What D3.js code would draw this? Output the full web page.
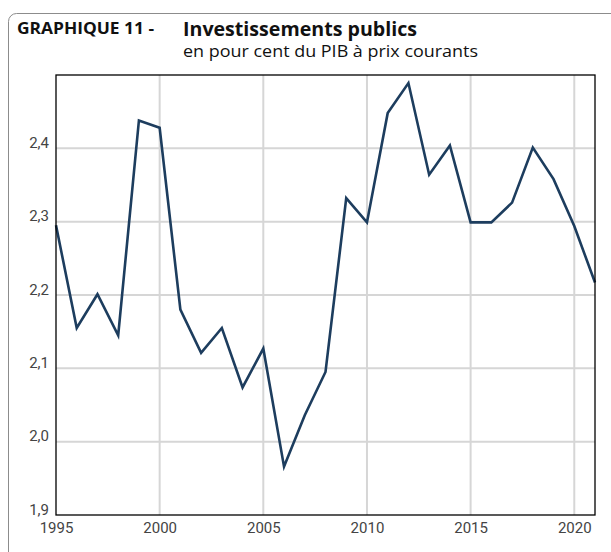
<!DOCTYPE html>
<html><head><meta charset="utf-8">
<script src="https://cdn.jsdelivr.net/npm/d3@7"></script>
<style>body{margin:0;background:#fff}svg{display:block}</style>
</head><body>
<svg id="c" width="611" height="552"></svg>
<script>
const years = d3.range(1995, 2022);
const values = [2.295, 2.155, 2.201, 2.145, 2.438, 2.428, 2.180, 2.121, 2.155, 2.074,
  2.127, 1.966, 2.036, 2.095, 2.332, 2.299, 2.448, 2.489, 2.364, 2.404,
  2.299, 2.299, 2.326, 2.401, 2.358, 2.294, 2.217];
const yTicks = [1.9, 2.0, 2.1, 2.2, 2.3, 2.4];
const xTicks = [1995, 2000, 2005, 2010, 2015, 2020];
const titleLabel = "GRAPHIQUE 11 -";
const titleText = "Investissements publics";
const subtitleText = "en pour cent du PIB à prix courants";

const svg = d3.select("#c");
const m = {l: 56, t: 75, r: 595, b: 515};
const x = d3.scaleLinear().domain([1995, 2021]).range([m.l, m.r]);
const y = d3.scaleLinear().domain([1.9, 2.5]).range([m.b, m.t]);

// outer frame
svg.append("rect").attr("x", 8.5).attr("y", 13.5).attr("width", 640).attr("height", 600)
  .attr("rx", 8).attr("fill", "none").attr("stroke", "#8c8c8c").attr("stroke-width", 1);

// titles
svg.append("text").attr("x", 17).attr("y", 34).text(titleLabel)
  .attr("font-family", "Open Sans, sans-serif").attr("font-weight", "bold").attr("font-size", 16)
  .attr("textLength", 137).attr("lengthAdjust", "spacingAndGlyphs").attr("fill", "#111");
svg.append("text").attr("x", 183).attr("y", 36).text(titleText)
  .attr("font-family", "Open Sans, sans-serif").attr("font-weight", "bold").attr("font-size", 19)
  .attr("textLength", 234).attr("lengthAdjust", "spacingAndGlyphs").attr("fill", "#111");
svg.append("text").attr("x", 183).attr("y", 57).text(subtitleText)
  .attr("font-family", "Open Sans, sans-serif").attr("font-size", 15.5)
  .attr("textLength", 295).attr("lengthAdjust", "spacingAndGlyphs").attr("fill", "#111");

// gridlines
const g = svg.append("g");
g.selectAll("line.h").data(yTicks.filter(d => d > 1.9)).join("line")
  .attr("x1", m.l).attr("x2", m.r).attr("y1", d => y(d)).attr("y2", d => y(d))
  .attr("stroke", "#d6d6d6").attr("stroke-width", 2);
g.selectAll("line.v").data(xTicks.filter(d => d > 1995)).join("line")
  .attr("y1", m.t).attr("y2", m.b).attr("x1", d => x(d)).attr("x2", d => x(d))
  .attr("stroke", "#d6d6d6").attr("stroke-width", 2);

// axes
const yAxis = svg.append("g").attr("transform", `translate(${m.l},0)`)
  .call(d3.axisLeft(y).tickValues(yTicks).tickSize(0).tickPadding(7)
    .tickFormat(d => d3.format(".1f")(d).replace(".", ",")));
yAxis.select(".domain").remove();
yAxis.selectAll("text").attr("dy", "-0.05em").attr("font-family", "Roboto, sans-serif")
  .attr("font-size", 15).attr("fill", "#444");

const xAxis = svg.append("g").attr("transform", `translate(0,${m.b})`)
  .call(d3.axisBottom(x).tickValues(xTicks).tickSize(0).tickFormat(d3.format("d")));
xAxis.select(".domain").remove();
xAxis.selectAll("text").attr("y", 18).attr("dy", 0).attr("font-family", "Roboto, sans-serif")
  .attr("font-size", 15).attr("fill", "#444");

// line
svg.append("path").datum(years.map((yr, i) => [yr, values[i]]))
  .attr("fill", "none").attr("stroke", "#1d3d5e").attr("stroke-width", 2.6)
  .attr("stroke-linejoin", "miter")
  .attr("d", d3.line().x(d => x(d[0])).y(d => y(d[1])));

// plot frame
svg.append("rect").attr("x", m.l).attr("y", m.t).attr("width", m.r - m.l).attr("height", m.b - m.t)
  .attr("fill", "none").attr("stroke", "#000").attr("stroke-width", 1.3);
</script>
</body></html>
